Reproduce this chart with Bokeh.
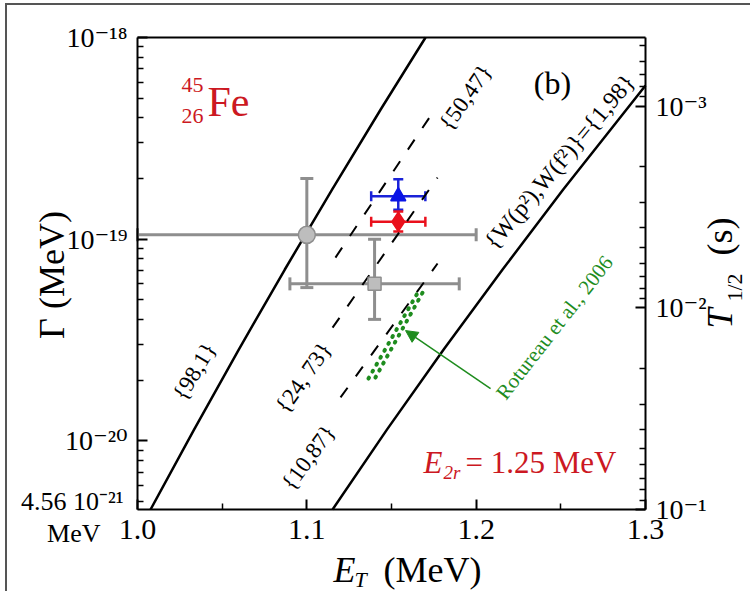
import math
from bokeh.plotting import figure
from bokeh.models import (Range1d, LogScale, LogAxis, LinearAxis, FixedTicker, CustomJSTickFormatter,
                          ColumnDataSource, Whisker, TeeHead, Label, Arrow, NormalHead)
from bokeh.embed import file_html
from bokeh.resources import INLINE

# ---------------- data ----------------
HBAR_LN2 = 4.5624e-22  # MeV*s, T1/2 = hbar*ln2 / Gamma

e_range = [1.0, 1.3]
gamma_range = [4.5624e-21, 1e-18]

x_ticks = [1.0, 1.1, 1.2, 1.3]
x_tick_labels = ["1.0", "1.1", "1.2", "1.3"]
x_minor = [1.05, 1.15, 1.25]

g_ticks = [1e-20, 1e-19, 1e-18]
g_tick_labels = ["10⁻²⁰", "10⁻¹⁹", "10⁻¹⁸"]
g_minor = [m * 10.0 ** e for e in (-21, -20, -19) for m in range(2, 10) if m * 10.0 ** e > gamma_range[0]]

t_ticks = [1e-1, 1e-2, 1e-3]
t_tick_labels = ["10⁻¹", "10⁻²", "10⁻³"]
t_minor = [m * 10.0 ** e for e in (-4, -3, -2) for m in range(2, 10) if m * 10.0 ** e > HBAR_LN2 / gamma_range[1]]

# theoretical curves  {W(p^2), W(f^2)}
curve_98_1_E = [1.0077, 1.0334, 1.0598, 1.0870, 1.1149, 1.1436, 1.1701]
curve_98_1_G = [4.5624e-21, 1.136e-20, 2.835e-20, 7.07e-20, 1.762e-19, 4.394e-19, 1.0e-18]
curve_1_98_E = [1.1152, 1.1473, 1.1808, 1.2156, 1.2514, 1.3000]
curve_1_98_G = [4.5624e-21, 1.136e-20, 2.835e-20, 7.07e-20, 1.762e-19, 5.78e-19]
curve_50_47_E = [1.1169, 1.1736]
curve_50_47_G = [8.10e-20, 4.15e-19]
curve_24_73_E = [1.1152, 1.1772]
curve_24_73_G = [3.64e-20, 2.02e-19]
curve_10_87_E = [1.1199, 1.1772]
curve_10_87_G = [1.64e-20, 7.57e-20]

# Rotureau et al., 2006 band (two dotted rows)
rot_a_E = [1.1364, 1.1659]
rot_a_G = [2.035e-20, 5.50e-20]
rot_b_E = [1.1405, 1.1700]
rot_b_G = [2.058e-20, 5.75e-20]
arrow_E = [1.2085, 1.1583]
arrow_G = [1.815e-20, 3.52e-20]

# experimental points
exp_E = [1.100, 1.140, 1.154, 1.154]
exp_dE = [0.100, 0.050, 0.016, 0.016]
exp_G = [1.05e-19, 6.0e-20, 1.63e-19, 1.22e-19]
exp_G_hi = [2.0e-19, 1.0e-19, 1.98e-19, 1.37e-19]
exp_G_lo = [5.75e-20, 4.0e-20, 1.40e-19, 1.09e-19]

# ---------------- layout / style ----------------
FONT = "Liberation Serif"
TICK_FONT = "Liberation Serif, DejaVu Serif"
GREEN = "#1e8c1e"
RED_TXT = "#cc1822"
GRAY = "#8e8e8e"

W, H = 745, 588            # canvas size
CX, CY = 7, 5              # canvas origin on the page (css margin + border)
BOX_L, BOX_R, BOX_T, BOX_B = 137, 645, 37, 509   # plot box on the page

px_per_E = (BOX_R - BOX_L) / (e_range[1] - e_range[0])
px_per_dec = (BOX_B - BOX_T) / (math.log10(gamma_range[1]) - math.log10(gamma_range[0]))
x_lo = e_range[0] - (BOX_L - CX) / px_per_E
x_hi = e_range[1] + (CX + W - BOX_R) / px_per_E
y_lo = 10 ** (math.log10(gamma_range[0]) - (CY + H - BOX_B) / px_per_dec)
y_hi = 10 ** (math.log10(gamma_range[1]) + (BOX_T - CY) / px_per_dec)

p = figure(width=W, height=H, x_range=Range1d(x_lo, x_hi), y_range=Range1d(y_lo, y_hi),
           y_axis_type="log", output_backend="svg", toolbar_location=None,
           min_border_left=0, min_border_right=0, min_border_top=0, min_border_bottom=0,
           styles={"margin-left": "5px", "margin-top": "3px",
                   "border-left": "2px solid #555555", "border-top": "2px solid #555555"})
p.grid.visible = False
p.outline_line_color = None
p.background_fill_color = "white"
p.border_fill_color = "white"

LIN_CODE = """
for (let i = 0; i < vals.length; i++) { if (Math.abs(vals[i] - tick) < 1e-9) return labels[i]; }
return "";
"""
LOG_CODE = """
for (let i = 0; i < vals.length; i++) { if (Math.abs(Math.log10(vals[i]) - Math.log10(tick)) < 1e-6) return labels[i]; }
return "";
"""


def style_axis(ax, size="28px"):
    ax.axis_line_width = 2
    ax.axis_line_color = "black"
    ax.major_tick_in = 10
    ax.major_tick_out = 0
    ax.minor_tick_in = 6
    ax.minor_tick_out = 0
    ax.major_tick_line_width = 2
    ax.minor_tick_line_width = 1.5
    ax.major_label_text_font = TICK_FONT
    ax.major_label_text_font_size = size
    ax.major_label_text_color = "black"
    ax.major_label_standoff = 10


xa = p.xaxis[0]
xa.fixed_location = gamma_range[0]
xa.bounds = tuple(e_range)
xa.ticker = FixedTicker(ticks=x_ticks, minor_ticks=x_minor)
xa.formatter = CustomJSTickFormatter(args=dict(vals=x_ticks, labels=x_tick_labels), code=LIN_CODE)
style_axis(xa, "30px")

ya = p.yaxis[0]
ya.fixed_location = e_range[0]
ya.bounds = tuple(gamma_range)
ya.ticker = FixedTicker(ticks=g_ticks, minor_ticks=g_minor)
ya.formatter = CustomJSTickFormatter(args=dict(vals=g_ticks, labels=g_tick_labels), code=LOG_CODE)
style_axis(ya)

t_bounds = (HBAR_LN2 / gamma_range[1], HBAR_LN2 / gamma_range[0])
p.extra_y_ranges = {"T": Range1d(start=HBAR_LN2 / y_lo, end=HBAR_LN2 / y_hi)}
p.extra_y_scales = {"T": LogScale()}
ra = LogAxis(y_range_name="T", fixed_location=e_range[1], bounds=t_bounds,
             ticker=FixedTicker(ticks=t_ticks, minor_ticks=t_minor),
             formatter=CustomJSTickFormatter(args=dict(vals=t_ticks, labels=t_tick_labels), code=LOG_CODE))
style_axis(ra)
ra.major_label_text_baseline = "top"
p.add_layout(ra, "right")

ta = LinearAxis(fixed_location=gamma_range[1], bounds=tuple(e_range), ticker=FixedTicker(ticks=[]))
style_axis(ta)
p.add_layout(ta, "above")

# ---------------- curves ----------------
p.line(curve_98_1_E, curve_98_1_G, line_color="black", line_width=2.5)
p.line(curve_1_98_E, curve_1_98_G, line_color="black", line_width=2.5)
for xs, ys in ((curve_50_47_E, curve_50_47_G), (curve_24_73_E, curve_24_73_G), (curve_10_87_E, curve_10_87_G)):
    p.line(xs, ys, line_color="black", line_width=2, line_dash="12 14")

for xs, ys in ((rot_a_E, rot_a_G), (rot_b_E, rot_b_G)):
    p.line(xs, ys, line_color=GREEN, line_width=4, line_dash="1 7", line_cap="round")

p.add_layout(Arrow(x_start=arrow_E[0], y_start=arrow_G[0], x_end=arrow_E[1], y_end=arrow_G[1],
                   line_color=GREEN, line_width=1.5,
                   end=NormalHead(size=12, fill_color=GREEN, line_color=GREEN)))

# ---------------- experimental points ----------------
pt_styles = [
    dict(marker="circle", size=17, fill="#bdbdbd", line=GRAY, bar=GRAY, cap=13, bw=3),
    dict(marker="square", size=13, fill="#bdbdbd", line=GRAY, bar=GRAY, cap=13, bw=3),
    dict(marker="triangle", size=15, fill="#0a14e6", line="#0a14e6", bar="#1a22d8", cap=10, bw=2.5),
    dict(marker="diamond", size=19, fill="#ea101c", line="#ea101c", bar="#ea101c", cap=10, bw=2.5),
]
for i, st in enumerate(pt_styles):
    src = ColumnDataSource(dict(E=[exp_E[i]], G=[exp_G[i]],
                                Elo=[exp_E[i] - exp_dE[i]], Ehi=[exp_E[i] + exp_dE[i]],
                                Glo=[exp_G_lo[i]], Ghi=[exp_G_hi[i]]))
    for dim, base, lo, hi in (("width", "G", "Elo", "Ehi"), ("height", "E", "Glo", "Ghi")):
        p.add_layout(Whisker(source=src, base=base, lower=lo, upper=hi, dimension=dim,
                             line_color=st["bar"], line_width=st["bw"],
                             upper_head=TeeHead(size=st["cap"], line_color=st["bar"], line_width=st["bw"]),
                             lower_head=TeeHead(size=st["cap"], line_color=st["bar"], line_width=st["bw"])))
    p.scatter("E", "G", source=src, marker=st["marker"], size=st["size"],
              fill_color=st["fill"], line_color=st["line"], line_width=1.5)


# ---------------- texts (page-pixel placement, y = centre of capitals) ----------------
def lab(px, py, text, size, color="black", style="normal", align="center", angle=0.0):
    p.add_layout(Label(x=px - CX, y=CY + H - py, x_units="screen", y_units="screen", text=text,
                       text_font=FONT, text_font_size=f"{size}px", text_font_style=style,
                       text_color=color, text_align=align, text_baseline="middle", angle=angle))


deg = math.pi / 180

lab(194, 371, "{98,1}", 23, angle=59 * deg)
lab(303, 377, "{24, 73}", 23, angle=55 * deg)
lab(308, 457, "{10,87}", 23, angle=54 * deg)
lab(465, 97, "{50,47}", 23, angle=55 * deg)
lab(559, 161, "{W(p²),W(f²)}={1,98}", 24, angle=50 * deg)
lab(552, 82, "(b)", 32)
lab(554, 327, "Rotureau et al., 2006", 21, color=GREEN, angle=52 * deg)

# nucleus label
lab(207, 101, "Fe", 42, color=RED_TXT, align="left")
lab(203, 84, "45", 22, color=RED_TXT, align="right")
lab(203, 115, "26", 22, color=RED_TXT, align="right")

# E2r label
lab(423, 462, "E", 31, color=RED_TXT, style="italic", align="left")
lab(443, 472, "2r", 19, color=RED_TXT, style="italic", align="left")
lab(465, 462, "= 1.25 MeV", 31, color=RED_TXT, align="left")

# bottom-left corner labels
lab(123, 501, "4.56 10⁻²¹", 26, align="right")
lab(100, 533, "MeV", 26, align="right")

# axis titles
lab(333, 569, "E", 36, style="italic", align="left")
lab(354, 579, "T", 22, style="italic", align="left")
lab(383, 569, "(MeV)", 36, align="left")
lab(51, 270, "Γ  (MeV)", 36, angle=90 * deg)
lab(719, 318, "T", 36, style="italic", angle=90 * deg)
lab(734, 287, "1/2", 22, angle=90 * deg)
lab(719, 236, "(s)", 36, angle=90 * deg)

open("out.html", "w").write(file_html(p, INLINE, title="45Fe"))
